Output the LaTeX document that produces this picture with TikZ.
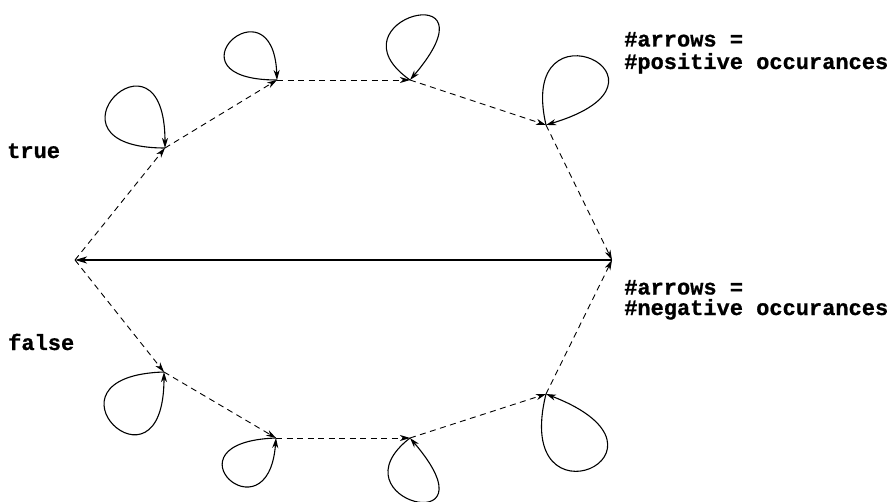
\documentclass[tikz,border=0pt]{standalone}
\usepackage{fontspec}
\setmonofont{Liberation Mono}[BoldFeatures={FakeBold=0.8}]
\usetikzlibrary{arrows.meta}

\begin{document}
\begin{tikzpicture}[x=1pt,y=-1pt,
  >={Stealth[length=10pt,width=6pt,inset=3pt]},
  flow/.style={->,line width=0.9pt,dash pattern=on 6pt off 4.5pt},
  loopline/.style={->,line width=1.1pt},
  mainline/.style={->,line width=1.4pt,>={Stealth[length=12pt,width=7pt,inset=3.5pt]}},
  annot/.style={inner sep=0pt,anchor=base west,text height=13pt,text depth=3pt,
    font=\fontsize{22}{22}\selectfont\ttfamily\bfseries}]
  \useasboundingbox (0,0) rectangle (893,502);

  % states of the cycle
  \coordinate (L)  at (75,260);
  \coordinate (R)  at (612,260);
  \coordinate (t1) at (165,148);
  \coordinate (t2) at (277,80);
  \coordinate (t3) at (410,80);
  \coordinate (t4) at (546,125);
  \coordinate (b1) at (164,372);
  \coordinate (b2) at (276,438);
  \coordinate (b3) at (410,438);
  \coordinate (b4) at (546,394);

  % upper chain
  \draw[flow] (L)  -- (t1);
  \draw[flow] (t1) -- (t2);
  \draw[flow] (t2) -- (t3);
  \draw[flow] (t3) -- (t4);
  \draw[flow] (t4) -- (R);
  % lower chain
  \draw[flow] (L)  -- (b1);
  \draw[flow] (b1) -- (b2);
  \draw[flow] (b2) -- (b3);
  \draw[flow] (b3) -- (b4);
  \draw[flow] (b4) -- (R);
  % return edge
  \draw[mainline] (R) -- (L);

  % self loops, upper side
  \draw[loopline] (t1) .. controls +(-135,0) and +(0,-135) .. (t1);
  \draw[loopline] (t2) .. controls +(-117,0) and +(-4,-104) .. (t2);
  \draw[loopline] (t3) .. controls +(-85,-60) and +(92,-108) .. (t3);
  \draw[loopline] (t4) .. controls +(-30,-130) and +(150,-45) .. (t4);
  % self loops, lower side
  \draw[loopline] (b1) .. controls +(-135,4) and +(0,135) .. (b1);
  \draw[loopline] (b2) .. controls +(-117,4) and +(-8,104) .. (b2);
  \draw[loopline] (b3) .. controls +(-80,62) and +(90,105) .. (b3);
  \draw[loopline] (b4) .. controls +(-35,140) and +(150,58) .. (b4);

  % labels
  \node[annot] (ttrue)  at (7,158)    {true};
  \node[annot] (tfalse) at (8,350)    {false};
  \node[annot] (pos1)   at (624,46.5) {\#arrows =};
  \node[annot] (pos2)   at (624,69)   {\#positive occurances};
  \node[annot] (neg1)   at (624,294.5) {\#arrows =};
  \node[annot] (neg2)   at (624,315)  {\#negative occurances};
\end{tikzpicture}
\end{document}
